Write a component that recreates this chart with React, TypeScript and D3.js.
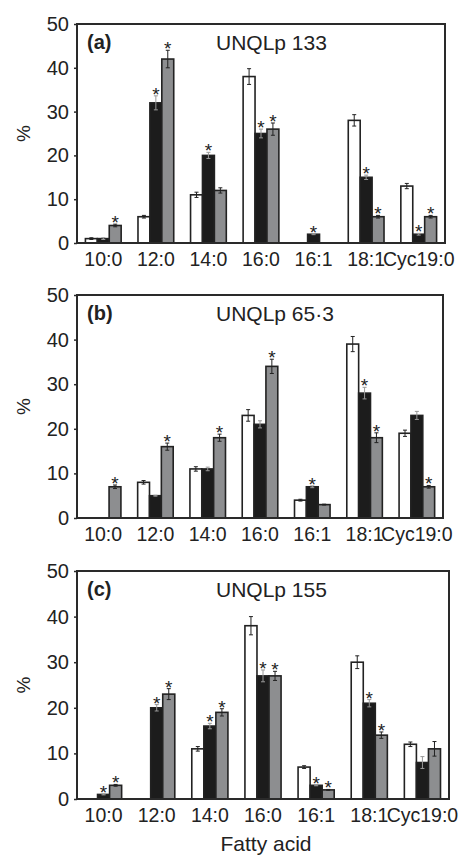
import { useRef, useEffect } from 'react';
import * as d3 from 'd3';

const categories = ['10:0', '12:0', '14:0', '16:0', '16:1', '18:1', 'Cyc19:0'];
const yTicks = [0, 10, 20, 30, 40, 50];
const series = ['w', 'b', 'g'];

// UNQLp 133
const a_white = [1, 6, 11, 38, 0, 28, 13];
const a_black = [1, 32, 20, 25, 2, 15, 2];
const a_grey = [4, 42, 12, 26, 0, 6, 6];
const a_whiteErr = [0.2, 0.3, 0.6, 1.8, 0, 1.3, 0.6];
const a_blackErr = [0.2, 1.6, 0.7, 1, 0.1, 0.5, 0.2];
const a_greyErr = [0.3, 2, 0.6, 1.4, 0, 0.3, 0.3];
const a_stars = ['g', 'bg', 'b', 'bg', 'b', 'bg', 'bg'];

// UNQLp 65·3
const b_white = [0, 8, 11, 23, 4, 39, 19];
const b_black = [0, 5, 11, 21, 7, 28, 23];
const b_grey = [7, 16, 18, 34, 3, 18, 7];
const b_whiteErr = [0, 0.4, 0.5, 1.3, 0.2, 1.7, 0.7];
const b_blackErr = [0, 0.1, 0.4, 0.8, 0.2, 1.3, 0.9];
const b_greyErr = [0.4, 0.8, 0.8, 1.6, 0.1, 1.1, 0.3];
const b_stars = ['g', 'g', 'g', 'g', 'b', 'bg', 'g'];

// UNQLp 155
const c_white = [0, 0, 11, 38, 7, 30, 12];
const c_black = [1, 20, 16, 27, 3, 21, 8];
const c_grey = [3, 23, 19, 27, 2, 14, 11];
const c_whiteErr = [0, 0, 0.5, 2, 0.3, 1.4, 0.5];
const c_blackErr = [0.1, 0.7, 0.6, 1.3, 0.1, 0.8, 1.3];
const c_greyErr = [0.2, 1.2, 0.8, 1, 0.1, 0.7, 1.6];
const c_stars = ['bg', 'bg', 'bg', 'bg', 'bg', 'bg', ''];

const panels = [
  { tag: '(a)', title: 'UNQLp 133', top: 24, bottom: 243, right: 445,
    vals: [a_white, a_black, a_grey], errs: [a_whiteErr, a_blackErr, a_greyErr], stars: a_stars },
  { tag: '(b)', title: 'UNQLp 65·3', top: 295, bottom: 518, right: 443,
    vals: [b_white, b_black, b_grey], errs: [b_whiteErr, b_blackErr, b_greyErr], stars: b_stars },
  { tag: '(c)', title: 'UNQLp 155', top: 571, bottom: 799, right: 449,
    vals: [c_white, c_black, c_grey], errs: [c_whiteErr, c_blackErr, c_greyErr], stars: c_stars },
];

const fills = { w: '#ffffff', b: '#1c1c1c', g: '#8d8e90' };
const FONT = '"Liberation Sans", Arial, Helvetica, sans-serif';
const left = 77;

export default function App() {
  const ref = useRef<SVGSVGElement>(null);

  useEffect(() => {
    const svg = d3.select(ref.current);
    svg.selectAll('*').remove();

    panels.forEach((p) => {
      const y = d3.scaleLinear().domain([0, 50]).range([p.bottom, p.top]);
      const x = d3.scaleBand().domain(categories).range([left, p.right])
        .paddingInner(0.32).paddingOuter(0.16);
      const xs = d3.scaleBand().domain(series).range([0, x.bandwidth()]);
      const g = svg.append('g');

      // bars
      categories.forEach((cat, i) => {
        series.forEach((s, k) => {
          const v = p.vals[k][i];
          const e = p.errs[k][i];
          const bx = x(cat)! + xs(s)!;
          const cx = bx + xs.bandwidth() / 2;
          g.append('rect')
            .attr('x', bx)
            .attr('y', y(v))
            .attr('width', xs.bandwidth())
            .attr('height', y(0) - y(v))
            .attr('fill', fills[s as keyof typeof fills])
            .attr('stroke', '#222')
            .attr('stroke-width', 1.6);

          const ec = s === 'b' ? '#999' : '#222';
          if (e > 0) {
            g.append('line').attr('x1', cx).attr('x2', cx)
              .attr('y1', y(v + e)).attr('y2', y(v - e))
              .attr('stroke', ec).attr('stroke-width', 1);
            [v + e, v - e].forEach((t) => {
              g.append('line').attr('x1', cx - 2).attr('x2', cx + 2)
                .attr('y1', y(t)).attr('y2', y(t))
                .attr('stroke', ec).attr('stroke-width', 1);
            });
          }
          if (p.stars[i].includes(s)) {
            g.append('text')
              .attr('x', cx)
              .attr('y', y(v + e) + 5)
              .attr('text-anchor', 'middle')
              .attr('font-family', FONT)
              .attr('font-size', 19)
              .attr('fill', '#222')
              .text('*');
          }
        });
      });

      // frame
      g.append('rect')
        .attr('x', left).attr('y', p.top)
        .attr('width', p.right - left).attr('height', p.bottom - p.top)
        .attr('fill', 'none').attr('stroke', '#2a2a2a').attr('stroke-width', 2);

      // y axis
      const ya = g.append('g').attr('transform', `translate(${left},0)`)
        .call(d3.axisLeft(y).tickValues(yTicks).tickSize(3).tickPadding(5));
      ya.select('.domain').remove();
      ya.selectAll('line').attr('stroke', '#2a2a2a').attr('stroke-width', 1.5);
      ya.selectAll('text').attr('font-family', FONT).attr('font-size', 20).attr('fill', '#222');

      // x labels
      categories.forEach((cat) => {
        g.append('text')
          .attr('x', x(cat)! + x.bandwidth() / 2)
          .attr('y', p.bottom + 23)
          .attr('text-anchor', 'middle')
          .attr('font-family', FONT)
          .attr('font-size', 19.5)
          .attr('fill', '#222')
          .text(cat);
      });

      g.append('text')
        .attr('transform', `translate(30,${(p.top + p.bottom) / 2}) rotate(-90)`)
        .attr('text-anchor', 'middle')
        .attr('font-family', FONT)
        .attr('font-size', 19)
        .attr('fill', '#222')
        .text('%');

      g.append('text')
        .attr('x', 87).attr('y', p.top + 25)
        .attr('font-family', FONT).attr('font-size', 20).attr('font-weight', 'bold')
        .attr('fill', '#222')
        .text(p.tag);

      g.append('text')
        .attr('x', 216).attr('y', p.top + 26)
        .attr('font-family', FONT).attr('font-size', 21)
        .attr('fill', '#222')
        .text(p.title);
    });

    svg.append('text')
      .attr('x', 266).attr('y', 851)
      .attr('text-anchor', 'middle')
      .attr('font-family', FONT)
      .attr('font-size', 21)
      .attr('fill', '#222')
      .text('Fatty acid');
  }, []);

  return (
    <svg ref={ref} width={467} height={856}
      style={{ position: 'absolute', left: 0, top: 0, background: '#fff' }} />
  );
}
